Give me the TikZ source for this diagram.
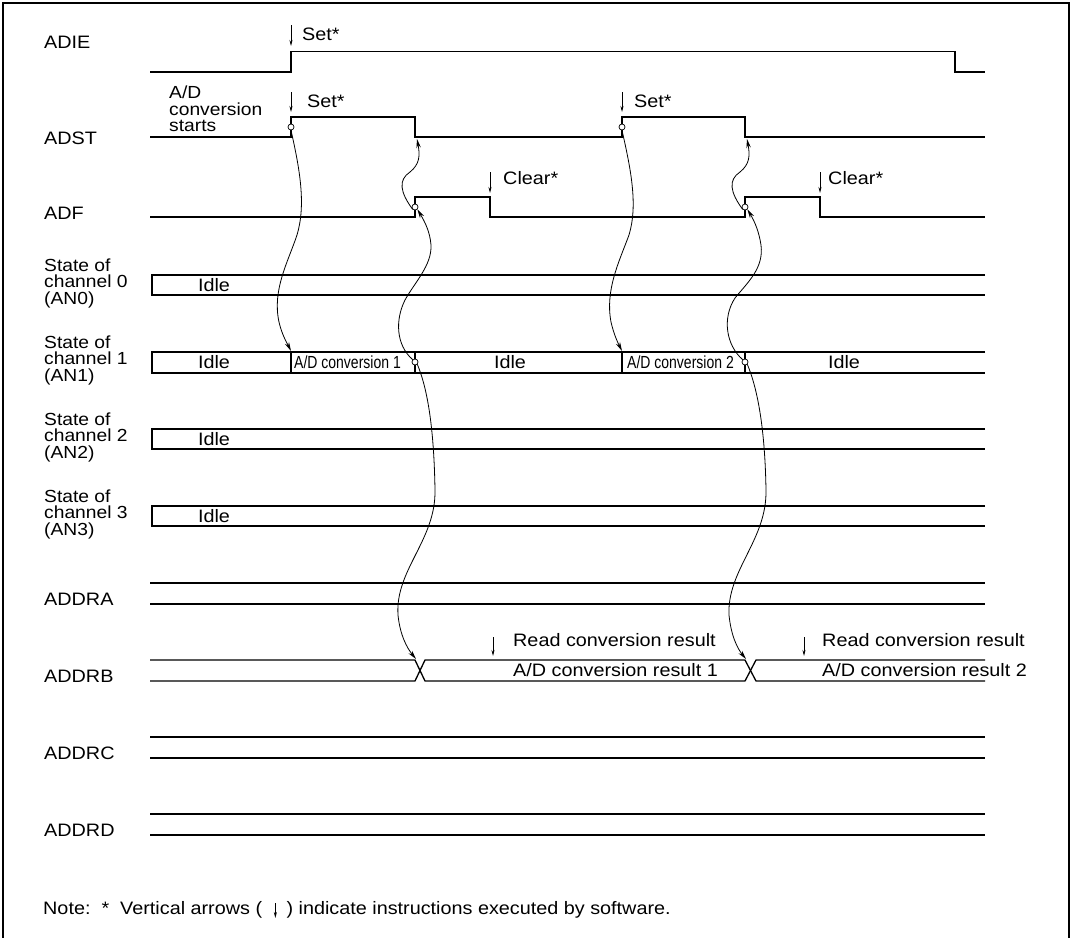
\documentclass[tikz,border=0pt]{standalone}
\usepackage{fontspec}
\setmainfont{Liberation Sans}[FakeStretch=1.1]
\newfontfamily\narrowfont{Liberation Sans}[FakeStretch=0.8]
\usetikzlibrary{arrows.meta}
\begin{document}
\begin{tikzpicture}[x=1pt,y=-1pt,
  sig/.style={line width=1.3pt, line join=miter},
  conn/.style={line width=0.8pt, -{Stealth[length=9pt,width=4.5pt]}},
  swarrow/.style={line width=0.8pt, -{Stealth[length=6pt,width=3pt]}},
  lbl/.style={font=\fontsize{17.5}{16.5}\selectfont, inner sep=0pt, anchor=west, align=left},
  txt/.style={font=\fontsize{18}{15.5}\selectfont, inner sep=0pt, anchor=west},
  small/.style={font=\narrowfont\fontsize{17.5}{15}\selectfont, inner sep=0pt, anchor=west},
  ring/.style={draw, circle, minimum size=6pt, inner sep=0pt, line width=0.7pt, fill=white},
]
\useasboundingbox (0,0) rectangle (1072,938);
% frame
\draw[line width=2pt] (3,945) -- (3,3) -- (1069,3) -- (1069,945);

% left labels
\node[txt] (lADIE) at (44,42) {ADIE};
\node[txt] (lADST) at (44,138) {ADST};
\node[txt] (lADF) at (44,213) {ADF};
\node[lbl] (lCH0) at (44,283) {State of\\channel 0\\(AN0)};
\node[lbl] (lCH1) at (44,360) {State of\\channel 1\\(AN1)};
\node[lbl] (lCH2) at (44,437) {State of\\channel 2\\(AN2)};
\node[lbl] (lCH3) at (44,514) {State of\\channel 3\\(AN3)};
\node[txt] (lA) at (44,599) {ADDRA};
\node[txt] (lB) at (44,676) {ADDRB};
\node[txt] (lC) at (44,753) {ADDRC};
\node[txt] (lD) at (44,830) {ADDRD};

% ADIE
\draw[sig] (150,72) -- (291,72) -- (291,51.5) -- (955,51.5) -- (955,72) -- (985,72);
% ADST
\draw[sig] (150,137) -- (291,137) -- (291,117) -- (415,117) -- (415,137) -- (622,137)
  -- (622,117) -- (745,117) -- (745,137) -- (985,137);
% ADF
\draw[sig] (150,217) -- (415,217) -- (415,197) -- (490,197) -- (490,217) -- (745,217)
  -- (745,197) -- (820,197) -- (820,217) -- (985,217);

% channel boxes
\draw[sig] (985,275) -- (152,275) -- (152,295) -- (985,295);
\draw[sig] (985,352) -- (152,352) -- (152,373) -- (985,373);
\draw[sig] (291,352) -- (291,373) (415,352) -- (415,373) (622,352) -- (622,373) (745,352) -- (745,373);
\draw[sig] (985,429) -- (152,429) -- (152,449) -- (985,449);
\draw[sig] (985,506) -- (152,506) -- (152,526) -- (985,526);

% ADDR registers
\draw[sig] (150,583) -- (985,583) (150,604) -- (985,604);
\draw[sig] (150,660) -- (415,660) -- (425,681) -- (745,681) -- (756,660) -- (985,660);
\draw[sig] (150,681) -- (415,681) -- (425,660) -- (745,660) -- (756,681) -- (985,681);
\draw[sig] (150,737) -- (985,737) (150,758) -- (985,758);
\draw[sig] (150,814) -- (985,814) (150,835) -- (985,835);

% texts
\node[txt] (tSet0) at (302,34) {Set*};
\node[txt] (tSet1) at (307,101) {Set*};
\node[txt] (tSet2) at (634,101) {Set*};
\node[txt] (tClr1) at (503,178) {Clear*};
\node[txt] (tClr2) at (828,178) {Clear*};
\node[lbl] (tStart) at (169,109) {A/D\\conversion\\starts};
\node[txt, anchor=center] (i0) at (214,285) {Idle};
\node[txt, anchor=center] (i1a) at (214,362.5) {Idle};
\node[txt, anchor=center] (i1b) at (510,362.5) {Idle};
\node[txt, anchor=center] (i1c) at (844,362.5) {Idle};
\node[txt, anchor=center] (i2) at (214,439) {Idle};
\node[txt, anchor=center] (i3) at (214,516) {Idle};
\node[small] (conv1) at (294,362.5) {A/D conversion 1};
\node[small] (conv2) at (627,362.5) {A/D conversion 2};
\node[txt] (rd1) at (513,640) {Read conversion result};
\node[txt] (res1) at (513,670.5) {A/D conversion result 1};
\node[txt] (rd2) at (822,640) {Read conversion result};
\node[txt] (res2) at (822,670.5) {A/D conversion result 2};

% software arrows
\draw[swarrow] (291,25) -- (291,46);
\draw[swarrow] (291,92) -- (291,112);
\draw[swarrow] (622,92) -- (622,112);
\draw[swarrow] (490,172) -- (490,193);
\draw[swarrow] (820,172) -- (820,193);
\draw[swarrow] (493,637) -- (493,656);
\draw[swarrow] (804,637) -- (804,656);

% rings
\node[ring] (r1) at (291,127) {};
\node[ring] (r2) at (622,127) {};
\node[ring] (f1) at (415,207) {};
\node[ring] (f2) at (745,207) {};
\node[ring] (c1) at (415,362) {};
\node[ring] (c2) at (745,362) {};
\coordinate (e1) at (291,351);
\coordinate (e2) at (622,351);
\coordinate (s1) at (417,139);
\coordinate (s2) at (747,139);
\coordinate (x1) at (416,659);
\coordinate (x2) at (746,659);

% connectors
\draw[conn] (r1.south) .. controls (300,170) and (306,205) .. (297,235)
  .. controls (288,262) and (272,290) .. (279,322) .. controls (282,335) and (287,343) .. (e1);
\draw[conn] (r2.south) .. controls (631,170) and (638,205) .. (629,235)
  .. controls (619,262) and (605,290) .. (611,322) .. controls (614,335) and (618,343) .. (e2);
\draw[conn] (f1.south west) .. controls (400,192) and (398,180) .. (410,172)
  .. controls (420,164) and (420,155) .. (s1);
\draw[conn] (f2.south west) .. controls (730,192) and (728,180) .. (740,172)
  .. controls (750,164) and (750,155) .. (s2);
\draw[conn] (c1.north west) .. controls (396,345) and (395,320) .. (405,300)
  .. controls (415,282) and (432,265) .. (431,245) .. controls (430,232) and (425,222) .. (f1.south east);
\draw[conn] (c2.north west) .. controls (726,345) and (722,318) .. (735,298)
  .. controls (748,282) and (764,268) .. (761,245) .. controls (759,232) and (755,222) .. (f2.south east);
\draw[conn] (c1.south east) .. controls (428,390) and (434,430) .. (435,490)
  .. controls (436,540) and (395,570) .. (398,615) .. controls (400,635) and (407,648) .. (x1);
\draw[conn] (c2.south east) .. controls (758,390) and (765,430) .. (766,490)
  .. controls (767,540) and (727,570) .. (729,615) .. controls (731,635) and (737,648) .. (x2);

% note
\node[txt, anchor=base west] (n1) at (43,914) {Note:\ \ *\ \ Vertical arrows (};
\node[txt, anchor=base west] (n2) at ([xshift=24pt]n1.base east) {) indicate instructions executed by software.};
\coordinate (na) at ([xshift=13pt,yshift=11pt]n1.base east);
\coordinate (nb) at ([xshift=13pt,yshift=-4pt]n1.base east);
\draw[swarrow] (na) -- (nb);
\end{tikzpicture}
\end{document}
